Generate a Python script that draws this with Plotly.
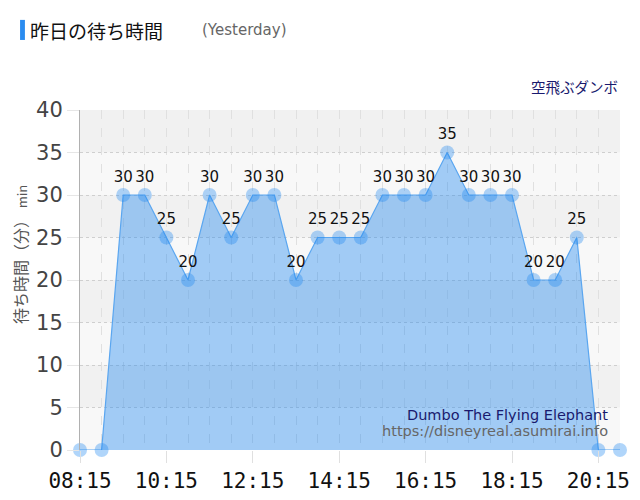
import plotly.graph_objects as go

# yesterday's waiting times, every 30 minutes
times = ["08:15", "08:45", "09:15", "09:45", "10:15", "10:45", "11:15", "11:45",
         "12:15", "12:45", "13:15", "13:45", "14:15", "14:45", "15:15", "15:45",
         "16:15", "16:45", "17:15", "17:45", "18:15", "18:45", "19:15", "19:45",
         "20:15", "20:45"]
wait_min = [0, 0, 30, 30, 25, 20, 30, 25, 30, 30, 20, 25, 25, 25, 30, 30,
            30, 35, 30, 30, 30, 20, 20, 25, 0, 0]
y_ticks = [0, 5, 10, 15, 20, 25, 30, 35, 40]

day = "2024-01-01 "
x = [day + t for t in times]
labels = ["" if v == 0 else str(v) for v in wait_min]

fig = go.Figure()

fig.add_trace(go.Scatter(
    x=x,
    y=wait_min,
    mode='lines+markers+text',
    text=labels,
    textposition='top center',
    textfont=dict(family='DejaVu Sans', size=15, color='#111'),
    fill='tozeroy',
    fillcolor='rgba(30, 136, 240, 0.4)',
    line=dict(color='rgb(90, 166, 240)', width=1.2),
    marker=dict(size=14, color='rgba(30, 136, 240, 0.35)', line=dict(width=0)),
    cliponaxis=False,
    hoverinfo='x+y'
))

# alternating grey bands behind the grid
shapes = []
for i in range(len(y_ticks) - 1):
    if i % 2 == 1:
        shapes.append(dict(type='rect', xref='paper', yref='y', x0=0, x1=1,
                           y0=y_ticks[i], y1=y_ticks[i + 1],
                           fillcolor='#f1f1f1', line=dict(width=0), layer='below'))

# page has an 8px body margin all round, so keep the figure inside the window
fig.update_layout(
    width=624,
    height=484,
    margin=dict(l=72, r=12, t=102, b=42),
    paper_bgcolor='white',
    plot_bgcolor='#f8f8f8',
    showlegend=False,
    shapes=shapes,
    font=dict(family='DejaVu Sans', color='#444'),
    xaxis=dict(
        type='date',
        range=[x[0], x[-1]],
        tick0=x[0],
        dtick=2 * 60 * 60 * 1000,
        tickformat='%H:%M',
        tickfont=dict(family='DejaVu Sans Mono', size=21, color='#111'),
        ticks='outside', ticklen=12, tickcolor='#e0e0e0',
        showgrid=True, gridcolor='#e0e0e0', griddash='dash', gridwidth=1,
        minor=dict(dtick=30 * 60 * 1000, tick0=x[0], showgrid=True,
                   gridcolor='#e0e0e0', griddash='dash', gridwidth=1),
        zeroline=False, showline=False, fixedrange=True, automargin=False,
    ),
    yaxis=dict(
        range=[0, 40],
        tickvals=y_ticks,
        tickfont=dict(family='DejaVu Sans', size=21, color='#444'),
        ticks='outside', ticklen=12, tickcolor='#e6e6e6',
        showgrid=True, gridcolor='#cfcfcf', griddash='dot', gridwidth=1,
        zeroline=False, showline=True, linecolor='#b0b0b0', linewidth=1,
        fixedrange=True, automargin=False,
    ),
)

# y axis title, sits a little above the middle like the original
fig.add_annotation(text='待ち時間（分） <span style="font-size:13px">min</span>',
                   xref='paper', yref='paper', x=-0.111, y=0.574,
                   xanchor='center', yanchor='middle', textangle=-90, showarrow=False,
                   font=dict(family='Noto Sans CJK JP', size=16, color='#555'))

# header
fig.add_shape(type='rect', xref='paper', yref='paper',
              x0=-0.111, x1=-0.102, y0=1.206, y1=1.265,
              fillcolor='#2a8cf0', line=dict(width=0))
fig.add_annotation(text='昨日の待ち時間', xref='paper', yref='paper',
                   x=-0.096, y=1.235, xanchor='left', yanchor='middle', showarrow=False,
                   font=dict(family='Noto Sans CJK JP', size=19, color='#111'))
fig.add_annotation(text='(Yesterday)', xref='paper', yref='paper',
                   x=0.222, y=1.235, xanchor='left', yanchor='middle', showarrow=False,
                   font=dict(family='DejaVu Sans', size=15, color='#666'))
fig.add_annotation(text='空飛ぶダンボ', xref='paper', yref='paper',
                   x=1.0, y=1.07, xanchor='right', yanchor='middle', showarrow=False,
                   font=dict(family='Noto Sans CJK JP', size=14.5, color='#1a1a6e'))

# credits
fig.add_annotation(text='Dumbo The Flying Elephant', xref='paper', yref='paper',
                   x=0.981, y=0.104, xanchor='right', yanchor='middle', showarrow=False,
                   font=dict(family='DejaVu Sans', size=14.5, color='#1a1a6e'))
fig.add_annotation(text='https://disneyreal.asumirai.info', xref='paper', yref='paper',
                   x=0.981, y=0.056, xanchor='right', yanchor='middle', showarrow=False,
                   font=dict(family='DejaVu Sans', size=14.5, color='#666'))

fig.write_html("out.html")
